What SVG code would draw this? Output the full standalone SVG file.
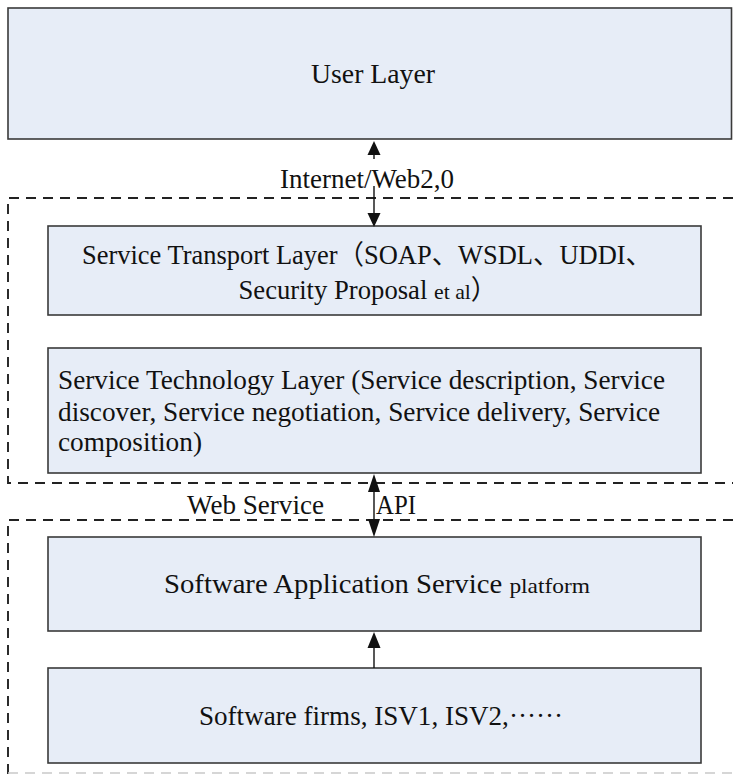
<svg xmlns="http://www.w3.org/2000/svg" width="733" height="775" viewBox="0 0 733 775">
  <style>
    .box { fill: #e7edf7; stroke: #3a3a3a; stroke-width: 1.6; }
    .dash { fill: none; stroke: #222; stroke-width: 1.9; stroke-dasharray: 10 7; }
    .faint { fill: none; stroke: #c9c9c9; stroke-width: 1.5; stroke-dasharray: 10 7; }
    .wire { fill: none; stroke: #111; stroke-width: 1.4; }
    .head { fill: #111; }
    text { font-family: "Liberation Serif", "Noto Sans CJK SC", serif; font-size: 27px; fill: #111; }
    .mid { text-anchor: middle; }
  </style>

  <!-- dashed grouping frames (open on the right, running off the page) -->
  <g id="frames">
    <path class="dash" d="M733,198 H8 V483 H733"/>
    <path class="dash" d="M733,520 H8 V775"/>
    <path class="faint" d="M8,773 H733"/>
  </g>

  <g id="user-layer">
    <rect class="box" x="8" y="8" width="723.5" height="131"/>
    <text class="mid" x="373" y="83" textLength="124" lengthAdjust="spacingAndGlyphs">User Layer</text>
  </g>

  <g id="service-transport">
    <rect class="box" x="48" y="226" width="653" height="89"/>
    <text class="mid" x="367" y="264" textLength="570" lengthAdjust="spacingAndGlyphs">Service Transport Layer（SOAP、WSDL、UDDI、</text>
    <text class="mid" x="368" y="299" textLength="259" lengthAdjust="spacingAndGlyphs">Security Proposal <tspan font-size="22">et al</tspan>）</text>
  </g>

  <g id="service-technology">
    <rect class="box" x="48" y="348" width="653" height="125"/>
    <text x="58" y="389" textLength="607" lengthAdjust="spacingAndGlyphs">Service Technology Layer (Service description, Service</text>
    <text x="58" y="421" textLength="602" lengthAdjust="spacingAndGlyphs">discover, Service negotiation, Service delivery, Service</text>
    <text x="58" y="451" textLength="144" lengthAdjust="spacingAndGlyphs">composition)</text>
  </g>

  <g id="app-platform">
    <rect class="box" x="48" y="537" width="653" height="94"/>
    <text class="mid" x="377" y="593" textLength="426" lengthAdjust="spacingAndGlyphs">Software Application Service <tspan font-size="22">platform</tspan></text>
  </g>

  <g id="software-firms">
    <rect class="box" x="48" y="668" width="653" height="95"/>
    <text class="mid" x="381" y="725" textLength="364" lengthAdjust="spacingAndGlyphs">Software firms, ISV1, ISV2,······</text>
  </g>

  <g id="labels">
    <text class="mid" x="367" y="188" textLength="174" lengthAdjust="spacingAndGlyphs">Internet/Web2,0</text>
    <text x="187" y="514" textLength="137" lengthAdjust="spacingAndGlyphs">Web Service</text>
    <text x="376" y="514" textLength="40" lengthAdjust="spacingAndGlyphs">API</text>
  </g>

  <g id="connectors">
    <!-- Internet/Web2,0 : up to the user layer -->
    <line class="wire" x1="374" y1="154" x2="374" y2="159"/>
    <polygon class="head" points="374,141 367.5,155 380.5,155"/>
    <!-- Internet/Web2,0 : down into the transport layer -->
    <line class="wire" x1="374" y1="186" x2="374" y2="214"/>
    <polygon class="head" points="374,227 367.5,213 380.5,213"/>
    <!-- Web Service API : two-way -->
    <line class="wire" x1="374" y1="490" x2="374" y2="521"/>
    <polygon class="head" points="374,474 368,492 380,492"/>
    <polygon class="head" points="374,537 368,519 380,519"/>
    <!-- software firms feed the platform -->
    <line class="wire" x1="374" y1="646" x2="374" y2="668"/>
    <polygon class="head" points="374,632 367.5,648 380.5,648"/>
  </g>
</svg>
